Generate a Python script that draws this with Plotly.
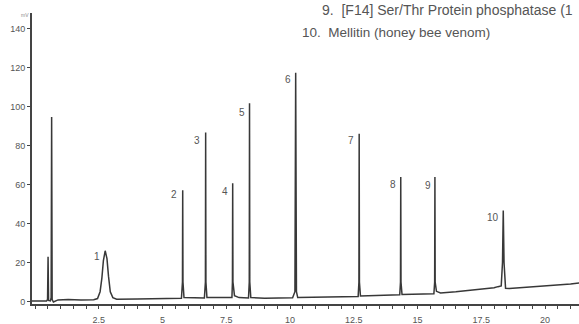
import plotly.graph_objects as go

# Chromatogram trace (time in min, signal in mV)
time_min = [-0.12, 0.0, 0.45, 0.49, 0.51, 0.53, 0.60, 0.63, 0.65, 0.67, 0.72, 0.9, 1.3, 1.8, 2.3,
            2.45, 2.55, 2.62, 2.68, 2.75, 2.82, 2.88, 2.95, 3.05, 3.2, 4.0, 5.0,
            5.74, 5.78, 5.79, 5.80, 5.84, 6.64, 6.68, 6.69, 6.70, 6.74,
            7.72, 7.74, 7.75, 7.76, 7.82, 7.90, 8.0, 8.37, 8.40, 8.41, 8.42, 8.46,
            9.0, 10.1, 10.19, 10.22, 10.25, 10.30, 11.5, 12.67, 12.70, 12.71, 12.72, 12.76,
            14.30, 14.33, 14.34, 14.35, 14.39, 15.64, 15.67, 15.68, 15.69, 15.74, 15.9,
            16.5, 17.5, 18.0, 18.15, 18.28, 18.33, 18.36, 18.39, 18.45, 18.6, 19.5, 20.5, 21.0, 21.4]
signal_mv = [0.2, 0.2, 0.2, 1.0, 23.0, 0.5, 0.3, 2.0, 94.7, 1.0, -0.3, 0.8, 1.0, 0.8, 0.9,
             1.5, 5.0, 12.0, 21.0, 26.0, 22.0, 13.0, 5.0, 2.0, 1.2, 1.3, 1.4,
             1.6, 10.0, 57.0, 10.0, 2.0, 1.8, 10.0, 86.7, 10.0, 2.0,
             2.0, 10.0, 60.7, 10.0, 3.0, 2.5, 2.0, 1.8, 10.0, 101.7, 10.0, 2.0,
             1.6, 1.9, 5.0, 117.4, 5.0, 2.0, 2.3, 2.6, 10.0, 86.0, 10.0, 2.8,
             3.4, 10.0, 63.8, 10.0, 3.6, 4.0, 10.0, 63.8, 10.0, 5.2, 4.4,
             5.0, 6.3, 7.0, 7.6, 8.0, 20.0, 46.7, 20.0, 6.8, 6.6, 7.4, 8.2, 9.0, 9.6]

peak_labels = ["1", "2", "3", "4", "5", "6", "7", "8", "9", "10"]
label_time = [2.43, 5.45, 6.34, 7.45, 8.10, 9.91, 12.39, 14.03, 15.39, 17.97]
label_mv = [22.9, 55.0, 82.6, 56.4, 97.0, 114.0, 82.4, 59.8, 59.3, 43.3]

x_ticks = [2.5, 5, 7.5, 10, 12.5, 15, 17.5, 20]
x_tick_text = ["2.5", "5", "7.5", "10", "12.5", "15", "17.5", "20"]
y_ticks = [0, 20, 40, 60, 80, 100, 120, 140]

legend_lines = ["9.  [F14] Ser/Thr Protein phosphatase (1", "10.  Mellitin (honey bee venom)"]

FONT = "Liberation Sans Narrow, Liberation Sans, sans-serif"

fig = go.Figure()
fig.add_trace(go.Scatter(x=time_min, y=signal_mv, mode="lines",
                         line=dict(color="#383838", width=1.5), hoverinfo="skip"))

for lab, t, v in zip(peak_labels, label_time, label_mv):
    fig.add_annotation(x=t, y=v, text=lab, showarrow=False, xanchor="center", yanchor="middle",
                       font=dict(family=FONT, size=10, color="#555555"))

fig.add_annotation(xref="paper", yref="paper", x=(320 - 32) / 547, y=1 + (13 - 10) / 291,
                   text=legend_lines[0], showarrow=False, xanchor="left", yanchor="middle",
                   font=dict(family=FONT, size=14, color="#555555"))
fig.add_annotation(xref="paper", yref="paper", x=(300 - 32) / 547, y=1 - (33 - 13) / 291,
                   text=legend_lines[1], showarrow=False, xanchor="left", yanchor="middle",
                   font=dict(family=FONT, size=13.5, color="#555555"))
fig.add_annotation(xref="paper", yref="paper", x=(25 - 32) / 547, y=1 - (15 - 13) / 291,
                   text="mV", showarrow=False, xanchor="center", yanchor="middle",
                   font=dict(family="Liberation Sans", size=5, color="#888888"))

fig.update_layout(
    width=579, height=324,
    margin=dict(l=32, r=0, t=13, b=20, autoexpand=False),
    paper_bgcolor="white", plot_bgcolor="white",
    showlegend=False,
    xaxis=dict(range=[-0.12, 21.33], tickvals=x_ticks, ticktext=x_tick_text, automargin=False,
               showgrid=False, zeroline=False, showline=True, linecolor="#444444", linewidth=1.5,
               ticks="outside", ticklen=3, tickwidth=1, tickcolor="#444444",
               minor=dict(dtick=0.5, ticks="outside", ticklen=3, tickwidth=1, tickcolor="#444444"),
               ticklabelstandoff=3,
               tickfont=dict(family="Liberation Sans", size=9, color="#555555")),
    yaxis=dict(range=[-1.3, 148], tickvals=y_ticks, automargin=False,
               showgrid=False, zeroline=False, showline=True, linecolor="#444444", linewidth=2,
               ticks="outside", ticklen=3, tickwidth=1, tickcolor="#444444",
               tickfont=dict(family="Liberation Sans", size=9, color="#555555")),
)

fig.write_html("out.html", config={"displayModeBar": False},
               post_script="document.body.style.margin='0';document.body.style.overflow='hidden';")
